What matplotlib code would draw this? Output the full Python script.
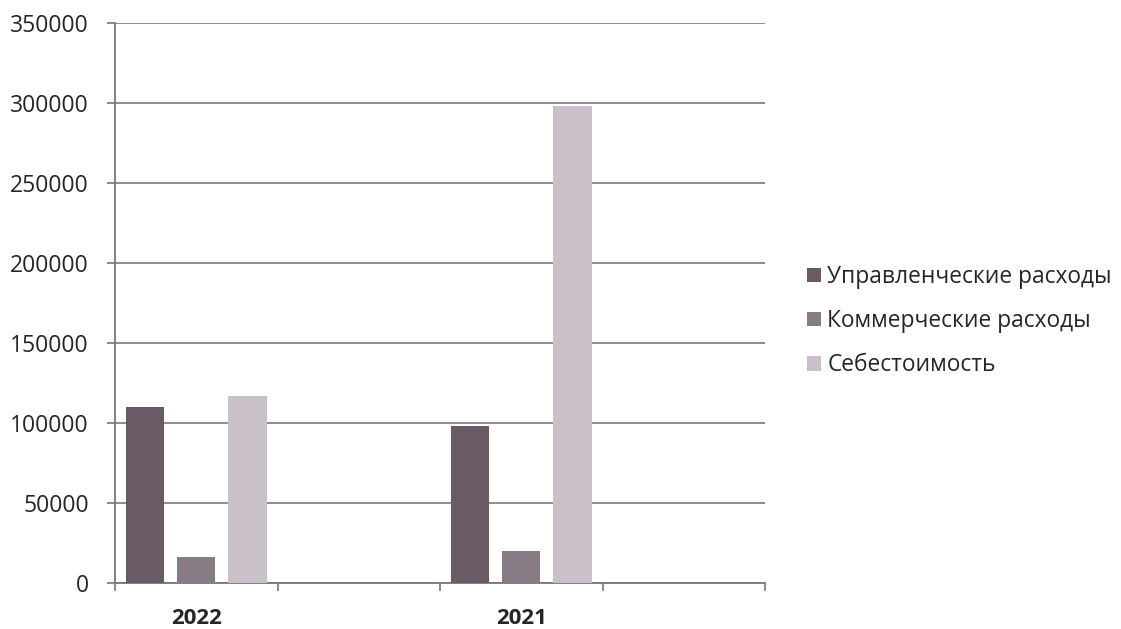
import matplotlib.pyplot as plt
import numpy as np

plt.rcParams['font.family'] = ['Open Sans', 'DejaVu Sans']

# categories (empty slots are part of the original chart)
years = ['2022', '', '2021', '']
upr = [110000, np.nan, 98000, np.nan]
komm = [16000, np.nan, 20000, np.nan]
seb = [117000, np.nan, 298000, np.nan]
series_names = ['Управленческие расходы', 'Коммерческие расходы', 'Себестоимость']
colors = ['#6a5a65', '#877b86', '#c9c0c9']
txt = '#262626'

fig = plt.figure(figsize=(11.21, 6.29), dpi=100)
ax = fig.add_axes([0.1026, 0.0731, 0.58, 0.8903])

x = np.arange(len(years)) + 0.5
w = 0.235
offs = [-0.315, 0.0, 0.315]
for vals, name, c, o in zip([upr, komm, seb], series_names, colors, offs):
    ax.bar(x + o, vals, width=w, color=c, label=name, zorder=3)

ax.set_xlim(0, len(years))
ax.set_ylim(0, 350000)
ax.set_yticks(np.arange(0, 350001, 50000))
ax.set_yticklabels([str(v) for v in range(0, 350001, 50000)], fontsize=16.5, color=txt)
ax.yaxis.grid(True, color='#858585', linewidth=1.3, zorder=0)

ax.set_xticks(np.arange(0, len(years) + 1))
ax.set_xticklabels([])
ax.set_xticks(x, minor=True)
ax.set_xticklabels(years, minor=True, fontsize=16, fontweight='bold', color=txt)
ax.tick_params(axis='x', which='minor', length=0, pad=18)
ax.tick_params(axis='x', which='major', length=6, width=1.2, color='#777777', direction='out')
ax.tick_params(axis='y', length=6, width=1.2, color='#777777', direction='out', pad=13)

for s in ['top', 'right']:
    ax.spines[s].set_visible(False)
for s in ['left', 'bottom']:
    ax.spines[s].set_color('#777777')
    ax.spines[s].set_linewidth(1.3)

leg = fig.legend(loc='center left', bbox_to_anchor=(0.702, 0.489), frameon=False,
                 fontsize=16.4, handlelength=0.58, handleheight=0.58, handletextpad=0.3,
                 labelspacing=0.88)
for t in leg.get_texts():
    t.set_color(txt)

plt.savefig('out.png', dpi=100)
